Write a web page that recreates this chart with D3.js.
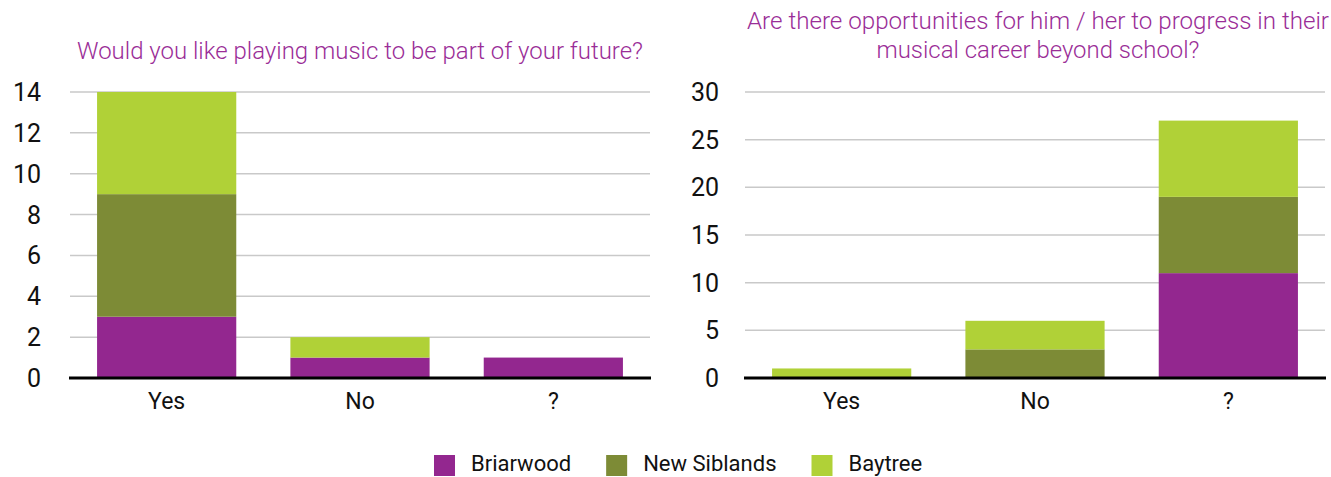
<!DOCTYPE html>
<html>
<head>
<meta charset="utf-8">
<script src="https://cdn.jsdelivr.net/npm/d3@7/dist/d3.min.js"></script>
<style>
  html, body { margin: 0; padding: 0; background: #fff; }
  svg { display: block; }
  text { font-family: Roboto, "Liberation Sans", sans-serif; }
</style>
</head>
<body>
<svg id="chart" width="1331" height="477"></svg>
<script>
// Answer categories shared by both questions
const categories = ["Yes", "No", "?"];
const schools = ["Briarwood", "New Siblands", "Baytree"];
const schoolColors = ["#93278f", "#7d8b36", "#b0d137"];

// Q1: Would you like playing music to be part of your future?
const futureBriarwood = [3, 1, 1];
const futureNewSiblands = [6, 0, 0];
const futureBaytree = [5, 1, 0];
const futureTicks = [0, 2, 4, 6, 8, 10, 12, 14];

// Q2: Are there opportunities to progress beyond school?
const progressBriarwood = [0, 0, 11];
const progressNewSiblands = [0, 3, 8];
const progressBaytree = [1, 3, 8];
const progressTicks = [0, 5, 10, 15, 20, 25, 30];

const svg = d3.select("#chart");
const titleColor = "#9a2d97";

function drawPanel(opts) {
  const { x0, x1, y0, y1, series, ticks, titleLines, labelX } = opts;
  const g = svg.append("g");

  const rows = categories.map((c, i) => {
    const r = { category: c };
    schools.forEach((s, k) => { r[s] = series[k][i]; });
    return r;
  });
  const stacked = d3.stack().keys(schools)(rows);

  const x = d3.scaleBand().domain(categories).range([x0, x1])
    .paddingInner(0.28).paddingOuter(0.14);
  const y = d3.scaleLinear().domain([0, d3.max(ticks)]).range([y1, y0]);

  // horizontal gridlines
  g.append("g").selectAll("line").data(ticks.filter(t => t > 0)).join("line")
    .attr("x1", x0).attr("x2", x1)
    .attr("y1", d => y(d)).attr("y2", d => y(d))
    .attr("stroke", "#c9c9c9").attr("stroke-width", 1.5);

  // y tick labels
  g.append("g").selectAll("text").data(ticks).join("text")
    .attr("x", labelX).attr("y", d => y(d)).attr("dy", "0.36em")
    .attr("text-anchor", "end")
    .attr("font-size", 25).attr("fill", "#111")
    .text(d => d);

  // stacked bars
  g.append("g").selectAll("g").data(stacked).join("g")
    .attr("fill", (d, i) => schoolColors[i])
    .selectAll("rect").data(d => d).join("rect")
    .attr("x", d => x(d.data.category))
    .attr("width", x.bandwidth())
    .attr("y", d => y(d[1]))
    .attr("height", d => Math.max(0, y(d[0]) - y(d[1])));

  // baseline
  g.append("line")
    .attr("x1", x0 - 1).attr("x2", x1 + 1)
    .attr("y1", y(0)).attr("y2", y(0))
    .attr("stroke", "#000").attr("stroke-width", 3);

  // category labels
  g.append("g").selectAll("text").data(categories).join("text")
    .attr("x", d => x(d) + x.bandwidth() / 2)
    .attr("y", y1 + 31)
    .attr("text-anchor", "middle")
    .attr("font-size", 23).attr("fill", "#111")
    .text(d => d);

  // title
  titleLines.forEach(t => {
    g.append("text")
      .attr("x", t.cx).attr("y", t.y)
      .attr("text-anchor", "middle")
      .attr("font-size", 23).attr("font-weight", 300)
      .attr("fill", titleColor)
      .attr("textLength", t.len).attr("lengthAdjust", "spacingAndGlyphs")
      .text(t.text);
  });
}

drawPanel({
  x0: 70, x1: 650, y0: 92, y1: 378, labelX: 41,
  series: [futureBriarwood, futureNewSiblands, futureBaytree],
  ticks: futureTicks,
  titleLines: [{ text: "Would you like playing music to be part of your future?", cx: 360, y: 59, len: 566 }]
});

drawPanel({
  x0: 745, x1: 1325, y0: 92, y1: 378, labelX: 719,
  series: [progressBriarwood, progressNewSiblands, progressBaytree],
  ticks: progressTicks,
  titleLines: [
    { text: "Are there opportunities for him / her to progress in their", cx: 1038, y: 29, len: 582 },
    { text: "musical career beyond school?", cx: 1038, y: 58, len: 323 }
  ]
});

// legend
const legend = svg.append("g");
let lx = 434;
schools.forEach((s, i) => {
  legend.append("rect")
    .attr("x", lx).attr("y", 455).attr("width", 21).attr("height", 21)
    .attr("fill", schoolColors[i]);
  const t = legend.append("text")
    .attr("x", lx + 37).attr("y", 471)
    .attr("font-size", 22).attr("fill", "#111")
    .text(s);
  lx += 37 + t.node().getComputedTextLength() + 35;
});
</script>
</body>
</html>
